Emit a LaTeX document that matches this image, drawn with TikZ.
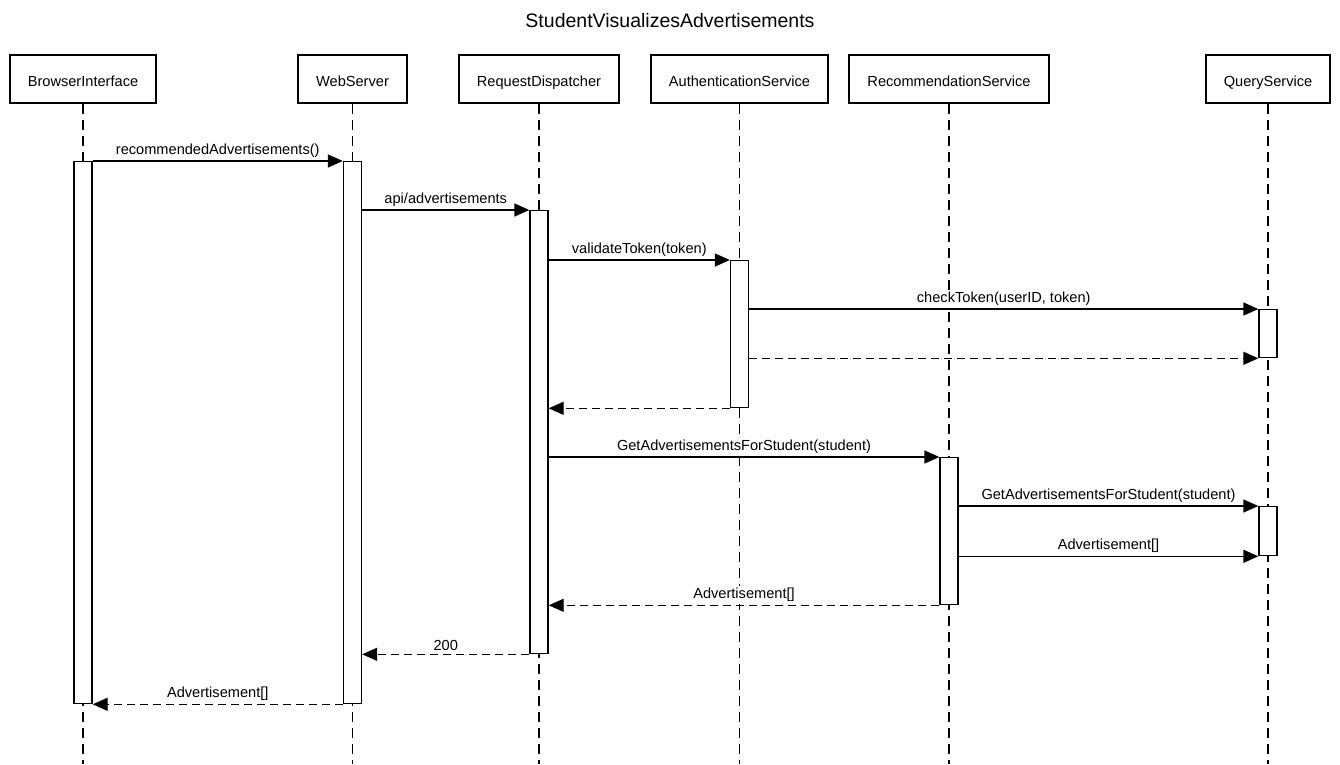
\documentclass[tikz,border=0pt]{standalone}
\usepackage{fontspec}
\setmainfont{Liberation Sans}
\usetikzlibrary{arrows.meta}
\tikzset{>={Triangle[length=15pt,width=13pt]}}

\begin{document}
\begin{tikzpicture}[x=1pt,y=-1pt,
headbox/.style={rectangle, draw=black, line width=2pt, fill=white, minimum height=48pt, inner xsep=18pt, text height=14.5pt, text depth=0pt, font=\fontsize{14.6}{17}\selectfont},
actbar/.style={rectangle, draw=black, line width=1.3pt, fill=white, minimum width=18pt, inner sep=0pt, anchor=north},
lifeline/.style={line width=1.3pt, dash pattern=on 10pt off 6pt},
call/.style={->, line width=1.3pt},
reply/.style={->, line width=1.3pt, dash pattern=on 8pt off 5pt},
msg/.style={above=1pt, fill=white, inner sep=2pt, font=\fontsize{14.6}{17}\selectfont},
]
\useasboundingbox (0,0) rectangle (1340,764);
%Title
\node[font=\fontsize{19.5}{22}\selectfont](Title) at (670,21){StudentVisualizesAdvertisements};
%Participants
\node[headbox](Browser) at (83,79){BrowserInterface};
\node[headbox](Web) at (352.5,79){WebServer};
\node[headbox](Dispatcher) at (539,79){RequestDispatcher};
\node[headbox](Auth) at (739.5,79){AuthenticationService};
\node[headbox](Recommend) at (949,79){RecommendationService};
\node[headbox](Query) at (1268,79){QueryService};
%Lifelines
\foreach \p in {Browser,Web,Dispatcher,Auth,Recommend,Query}
  \draw[lifeline] (\p.south) -- (\p.south |- 0,764);
%Activations
\node[actbar, minimum height=542pt](BrowserAct) at (83,161){};
\node[actbar, minimum height=542pt](WebAct) at (352.5,161){};
\node[actbar, minimum height=443pt](DispatcherAct) at (539,210){};
\node[actbar, minimum height=147pt](AuthAct) at (739.5,260){};
\node[actbar, minimum height=147pt](RecommendAct) at (949,457){};
\node[actbar, minimum height=48pt](QueryActA) at (1268,309){};
\node[actbar, minimum height=49pt](QueryActB) at (1268,506){};
%Messages
\draw[call] (BrowserAct.north east) -- node[msg]{recommendedAdvertisements()} (WebAct.north west);
\draw[call] (WebAct.east |- DispatcherAct.north) -- node[msg]{api/advertisements} (DispatcherAct.north west);
\draw[call] (DispatcherAct.east |- AuthAct.north) -- node[msg]{validateToken(token)} (AuthAct.north west);
\draw[call] (AuthAct.east |- QueryActA.north) -- node[msg]{checkToken(userID, token)} (QueryActA.north west);
\draw[reply] (AuthAct.east |- QueryActA.south) -- (QueryActA.south west);
\draw[reply] (AuthAct.south west) -- (DispatcherAct.east |- AuthAct.south);
\draw[call] (DispatcherAct.east |- RecommendAct.north) -- node[msg]{GetAdvertisementsForStudent(student)} (RecommendAct.north west);
\draw[call] (RecommendAct.east |- QueryActB.north) -- node[msg]{GetAdvertisementsForStudent(student)} (QueryActB.north west);
\draw[call] (RecommendAct.east |- QueryActB.south) -- node[msg]{Advertisement[]} (QueryActB.south west);
\draw[reply] (RecommendAct.south west) -- node[msg]{Advertisement[]} (DispatcherAct.east |- RecommendAct.south);
\draw[reply] (DispatcherAct.south west) -- node[msg]{200} (WebAct.east |- DispatcherAct.south);
\draw[reply] (WebAct.south west) -- node[msg]{Advertisement[]} (BrowserAct.south east);
\end{tikzpicture}
\end{document}
